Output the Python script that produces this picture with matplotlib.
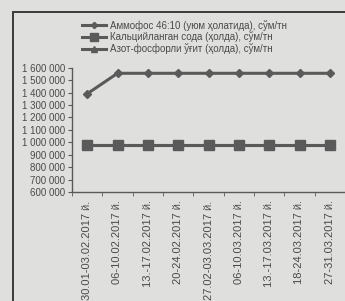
import matplotlib
matplotlib.use("Agg")
import matplotlib.pyplot as plt
from matplotlib.patches import Rectangle
import numpy as np

categories = ["30.01-03.02.2017 й.", "06-10.02.2017 й.", "13.-17.02.2017 й.",
              "20-24.02.2017 й.", "27.02-03.03.2017 й.", "06-10.03.2017 й.",
              "13.-17.03.2017 й.", "18-24.03.2017 й.", "27-31.03.2017 й."]
ammofos = [1390000, 1555000, 1555000, 1555000, 1555000, 1555000, 1555000, 1555000, 1555000]
soda = [975000, 975000, 975000, 975000, 975000, 975000, 975000, 975000, 975000]
azot = [975000, 975000, 975000, 975000, 975000, 975000, 975000, 975000, 975000]
series_names = ["Аммофос 46:10 (уюм ҳолатида), сўм/тн",
                "Кальцийланган сода (ҳолда), сўм/тн",
                "Азот-фосфорли ўғит (ҳолда), сўм/тн"]
yticks = [600000, 700000, 800000, 900000, 1000000, 1100000, 1200000,
          1300000, 1400000, 1500000, 1600000]

bg = "#dfdfdd"
dark = "#5a5a5a"
txt = "#4a4a4a"

plt.rcParams['font.family'] = ['Liberation Sans', 'DejaVu Sans']

fig = plt.figure(figsize=(3.45, 3.01), dpi=100, facecolor=bg)
# outer frame
fig.add_artist(Rectangle((13/345, -0.1), 1.2, 1 - 12/301 + 0.1,
                         transform=fig.transFigure, fill=False,
                         edgecolor="#3a3a3a", linewidth=1.4))

ax = fig.add_axes([72/345, 1 - 192/301, 1 - 72/345, (192 - 67.7)/301])
ax.set_facecolor(bg)
x = np.arange(len(categories))
l3, = ax.plot(x, azot, color=dark, lw=2.2, marker="^", ms=5, label=series_names[2])
l2, = ax.plot(x, soda, color=dark, lw=2.2, marker="s", ms=6.5, label=series_names[1])
l1, = ax.plot(x, ammofos, color=dark, lw=2.2, marker="D", ms=4, label=series_names[0])

ax.set_ylim(600000, 1600000)
ax.set_yticks(yticks)
ax.set_yticklabels([f"{v:,}".replace(",", " ") for v in yticks])
ax.set_xlim(-0.5, len(categories) - 0.5)
ax.set_xticks(x)
ax.set_xticklabels(categories, rotation=90, va="top", ha="center")
ax.set_xticks(np.arange(-0.5, len(categories), 1), minor=True)
ax.tick_params(axis="x", which="major", length=0, pad=6, labelsize=8, colors=txt)
ax.tick_params(axis="x", which="minor", length=3, color=dark)
ax.tick_params(axis="y", length=3, color=dark, labelsize=7, colors=txt, pad=2)
for s in ["top", "right"]:
    ax.spines[s].set_visible(False)
for s in ["left", "bottom"]:
    ax.spines[s].set_color(dark)
    ax.spines[s].set_linewidth(1.0)

fig.legend(handles=[l1, l2, l3], loc="upper left", bbox_to_anchor=(77/345, 1 - 15/301),
           frameon=False, fontsize=7, handlelength=2.5, handletextpad=0.4,
           labelspacing=0.08, borderpad=0, labelcolor=txt, markerscale=0.8)

fig.savefig("out.png", dpi=100, facecolor=bg)
